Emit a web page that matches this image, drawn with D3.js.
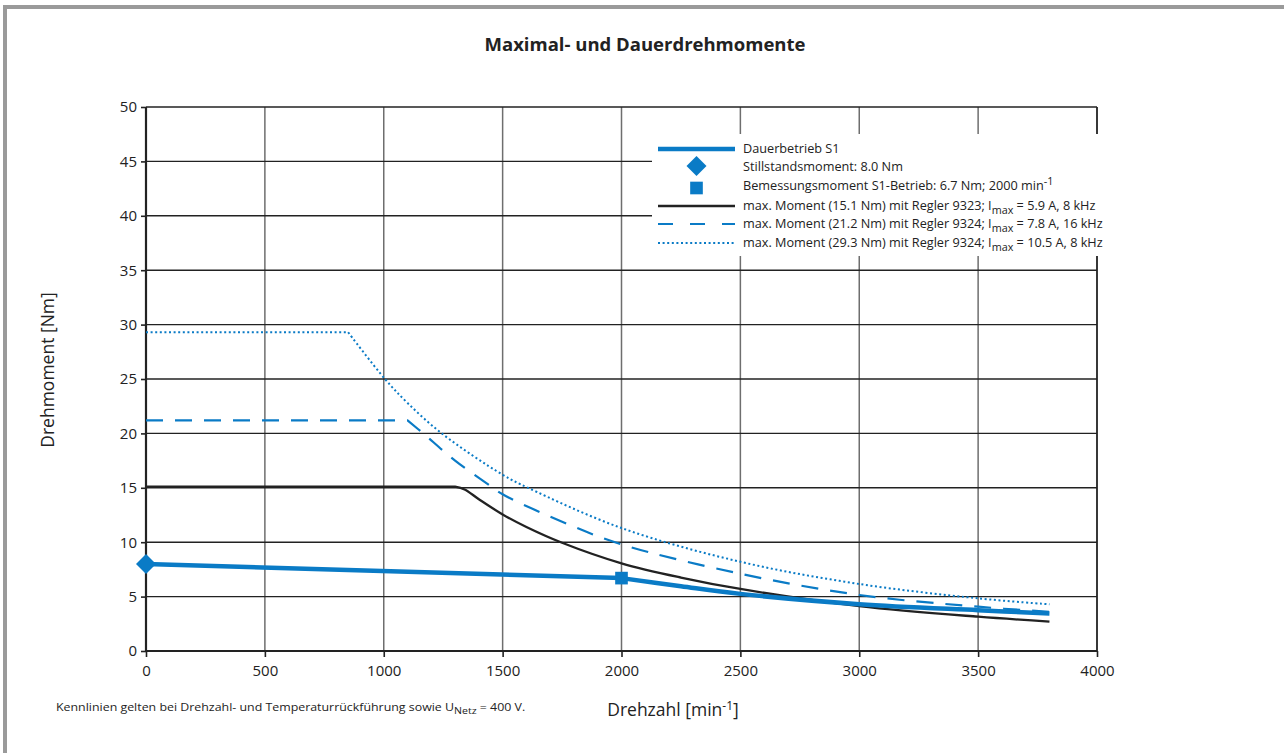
<!DOCTYPE html>
<html>
<head>
<meta charset="utf-8">
<script src="https://cdn.jsdelivr.net/npm/d3@7"></script>
<style>
  body { margin: 0; background: #fff; }
  text { font-family: "Open Sans", "Noto Sans", sans-serif; fill: #222; }
</style>
</head>
<body>
<div id="chart"></div>
<script>
// data
const xTicks = [0, 500, 1000, 1500, 2000, 2500, 3000, 3500, 4000];
const yTicks = [0, 5, 10, 15, 20, 25, 30, 35, 40, 45, 50];

// Dauerbetrieb S1: straight part then curve
const s1Straight = [[0, 8.0], [2000, 6.7]];
const s1Curve = [[2000, 6.7], [2250, 5.95], [2500, 5.25], [3000, 4.3], [3500, 3.75], [3800, 3.45]];

// max. Moment 15.1 Nm (9323)
const m151Flat = [[0, 15.1], [1300, 15.1]];
const m151Curve = [[1300, 15.1], [1340, 14.85], [1400, 13.95], [1500, 12.55], [1600, 11.4], [1750, 9.95],
                   [2000, 8.06], [2250, 6.75], [2500, 5.7], [3000, 4.13], [3500, 3.15], [3800, 2.7]];

// max. Moment 21.2 Nm (9324, 16 kHz)
const m212Flat = [[0, 21.2], [1100, 21.2]];
const m212Curve = [[1100, 21.2], [1166, 20.0], [1300, 17.5], [1460, 15.0], [1500, 14.4], [1770, 11.7],
                   [2000, 9.8], [2500, 7.1], [3000, 5.15], [3500, 4.07], [3800, 3.6]];

// max. Moment 29.3 Nm (9324, 8 kHz)
const m293Flat = [[0, 29.3], [850, 29.3]];
const m293Curve = [[850, 29.3], [1005, 25.0], [1100, 22.8], [1244, 20.0], [1500, 16.2], [1607, 15.0],
                   [2000, 11.3], [2500, 8.2], [3000, 6.16], [3500, 4.84], [3800, 4.29]];

const stillstand = [0, 8.0];
const bemessung = [2000, 6.7];

const blue = "#0a7bc6";

const W = 1284, H = 753;
const svg = d3.select("#chart").append("svg")
    .attr("width", W).attr("height", H);

// outer frame (top + left only)
svg.append("line").attr("x1", 3).attr("x2", W).attr("y1", 7).attr("y2", 7)
    .attr("stroke", "#9a9a9a").attr("stroke-width", 4);
svg.append("line").attr("x1", 5).attr("x2", 5).attr("y1", 5).attr("y2", H)
    .attr("stroke", "#9a9a9a").attr("stroke-width", 4);

const x = d3.scaleLinear().domain([0, 4000]).range([146, 1097]);
const y = d3.scaleLinear().domain([0, 50]).range([651, 107]);

// grid
const grid = svg.append("g");
grid.selectAll(".vg").data(xTicks.slice(1, -1)).enter().append("line")
    .attr("x1", d => x(d)).attr("x2", d => x(d))
    .attr("y1", y(50)).attr("y2", y(0))
    .attr("stroke", "#6e6e6e").attr("stroke-width", 1.5);
grid.selectAll(".hg").data(yTicks.slice(1, -1)).enter().append("line")
    .attr("x1", x(0)).attr("x2", x(4000))
    .attr("y1", d => y(d)).attr("y2", d => y(d))
    .attr("stroke", "#222").attr("stroke-width", 1.4);
// top and right border of plot
grid.append("line").attr("x1", x(0)).attr("x2", x(4000)).attr("y1", y(50)).attr("y2", y(50))
    .attr("stroke", "#222").attr("stroke-width", 1.5);
grid.append("line").attr("x1", x(4000)).attr("x2", x(4000)).attr("y1", y(50)).attr("y2", y(0))
    .attr("stroke", "#222").attr("stroke-width", 1.8);

// axes
const xAxis = d3.axisBottom(x).tickValues(xTicks).tickSize(6).tickPadding(8).tickFormat(d3.format("d"));
const yAxis = d3.axisLeft(y).tickValues(yTicks).tickSize(5).tickPadding(4).tickFormat(d3.format("d"));

const gx = svg.append("g").attr("transform", `translate(0,${y(0)})`).call(xAxis);
const gy = svg.append("g").attr("transform", `translate(${x(0)},0)`).call(yAxis);
[gx, gy].forEach(g => {
    g.select(".domain").attr("stroke", "#222").attr("stroke-width", 2.2);
    g.selectAll(".tick line").attr("stroke", "#222").attr("stroke-width", 1.6);
    g.selectAll(".tick text").attr("font-size", 15).attr("fill", "#222")
        .style("font-family", '"Open Sans", sans-serif');
});
gx.select(".domain").attr("d", `M${x(0)},0H${x(4000)}`);
gy.select(".domain").attr("d", `M0,${y(0)}V${y(50)}`);

// curves
const lin = d3.line().x(d => x(d[0])).y(d => y(d[1]));
const smooth = d3.line().x(d => x(d[0])).y(d => y(d[1])).curve(d3.curveCatmullRom.alpha(0.5));
function joined(straight, curve) {
    return lin(straight) + smooth(curve).replace(/^M/, "L");
}

const plot = svg.append("g").attr("fill", "none").attr("stroke-linejoin", "round");

plot.append("path").attr("d", joined(m293Flat, m293Curve))
    .attr("stroke", blue).attr("stroke-width", 2).attr("stroke-dasharray", "2,2.6");
plot.append("path").attr("d", joined(m212Flat, m212Curve))
    .attr("stroke", blue).attr("stroke-width", 2.2).attr("stroke-dasharray", "17,12");
plot.append("path").attr("d", joined(m151Flat, m151Curve))
    .attr("stroke", "#222").attr("stroke-width", 2.3);
plot.append("path").attr("d", joined(s1Straight, s1Curve))
    .attr("stroke", blue).attr("stroke-width", 4.5);

// markers
svg.append("path")
    .attr("d", d3.symbol(d3.symbolSquare, 200)())
    .attr("transform", `translate(${x(stillstand[0])},${y(stillstand[1])}) rotate(45)`)
    .attr("fill", blue);
svg.append("path")
    .attr("d", d3.symbol(d3.symbolSquare, 160)())
    .attr("transform", `translate(${x(bemessung[0])},${y(bemessung[1])})`)
    .attr("fill", blue);

// legend
const leg = svg.append("g");
leg.append("rect").attr("x", 652).attr("y", 134).attr("width", 464).attr("height", 122).attr("fill", "#fff");
const rowY = [149, 167, 186, 206, 224, 243];
const lx1 = 658, lx2 = 735, tx = 743;
leg.append("line").attr("x1", lx1).attr("x2", lx2).attr("y1", rowY[0]).attr("y2", rowY[0])
    .attr("stroke", blue).attr("stroke-width", 4.5);
leg.append("path").attr("d", d3.symbol(d3.symbolSquare, 200)())
    .attr("transform", `translate(${(lx1 + lx2) / 2},${rowY[1] - 1}) rotate(45)`).attr("fill", blue);
leg.append("path").attr("d", d3.symbol(d3.symbolSquare, 160)())
    .attr("transform", `translate(${(lx1 + lx2) / 2},${rowY[2] + 2})`).attr("fill", blue);
leg.append("line").attr("x1", lx1).attr("x2", lx2).attr("y1", rowY[3]).attr("y2", rowY[3])
    .attr("stroke", "#222").attr("stroke-width", 2.3);
leg.append("line").attr("x1", lx1).attr("x2", lx2).attr("y1", rowY[4]).attr("y2", rowY[4])
    .attr("stroke", blue).attr("stroke-width", 2.2).attr("stroke-dasharray", "15,17");
leg.append("line").attr("x1", lx1).attr("x2", lx2).attr("y1", rowY[5]).attr("y2", rowY[5])
    .attr("stroke", blue).attr("stroke-width", 2).attr("stroke-dasharray", "2,2.6");

const legText = [
    [["Dauerbetrieb S1"]],
    [["Stillstandsmoment: 8.0 Nm"]],
    [["Bemessungsmoment S1-Betrieb: 6.7 Nm; 2000 min"], ["-1", "sup"]],
    [["max. Moment (15.1 Nm) mit Regler 9323; I"], ["max", "sub"], [" = 5.9 A, 8 kHz"]],
    [["max. Moment (21.2 Nm) mit Regler 9324; I"], ["max", "sub"], [" = 7.8 A, 16 kHz"]],
    [["max. Moment (29.3 Nm) mit Regler 9324; I"], ["max", "sub"], [" = 10.5 A, 8 kHz"]]
];
function richText(t, parts, size) {
    let shift = 0;
    parts.forEach(p => {
        const ts = t.append("tspan").text(p[0]);
        let target = 0;
        if (p[1] === "sup") { target = -size * 0.4; ts.attr("font-size", size * 0.85); }
        else if (p[1] === "sub") { target = size * 0.3; ts.attr("font-size", size * 0.85); }
        ts.attr("dy", target - shift);
        shift = target;
    });
}
legText.forEach((parts, i) => {
    const t = leg.append("text").attr("x", tx).attr("y", rowY[i] + 4).attr("font-size", 12.7).attr("fill", "#333");
    richText(t, parts, 12.7);
});

// title and axis titles
svg.append("text").attr("x", 645).attr("y", 51).attr("text-anchor", "middle")
    .attr("font-size", 18.5).attr("font-weight", "bold").text("Maximal- und Dauerdrehmomente");

svg.append("text").attr("transform", "translate(54,370) rotate(-90)").attr("text-anchor", "middle")
    .attr("font-size", 17.5).text("Drehmoment [Nm]");

const xl = svg.append("text").attr("x", 673).attr("y", 716).attr("text-anchor", "middle").attr("font-size", 17.5);
xl.append("tspan").text("Drehzahl [min");
xl.append("tspan").text("-1").attr("font-size", 12).attr("dy", -6);
xl.append("tspan").text("]").attr("dy", 6);

// footnote, narrow type
const fg = svg.append("g").attr("transform", "translate(56,711)");
const fn = fg.append("text").attr("font-size", 11.5).attr("fill", "#222");
richText(fn, [["Kennlinien gelten bei Drehzahl- und Temperaturrückführung sowie U"], ["Netz", "sub"], [" = 400 V."]], 11.5);
const fw = fn.node().getComputedTextLength();
fn.attr("transform", `scale(${470 / fw},1)`);
</script>
</body>
</html>
